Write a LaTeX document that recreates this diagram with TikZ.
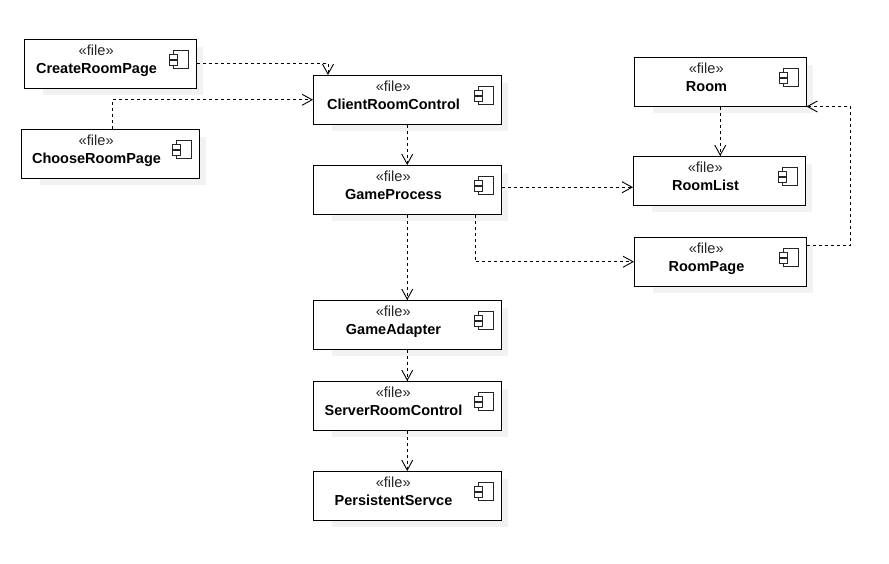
\documentclass[tikz,border=0pt]{standalone}
\usepackage{fontspec}
\setmainfont{Liberation Sans}
\usetikzlibrary{arrows.meta,calc}
\tikzset{
  x=1pt,y=-1pt,
  box/.style={draw=black,line width=1pt,fill=white,minimum height=49.5pt,inner sep=0pt,outer sep=0pt},
  shade/.style={fill=black!5,draw=none},
  stereo/.style={font=\fontsize{14.6pt}{15pt}\selectfont,text=black!85,inner sep=0pt},
  title/.style={font=\fontsize{14.5pt}{15pt}\selectfont\bfseries,text=black,inner sep=0pt},
  dep/.style={draw=black,line width=0.9pt,dash pattern=on 3pt off 3pt,-{Straight Barb[length=10pt,width=11pt,line width=0.9pt]}},
  iconline/.style={draw=black!85,line width=1pt,fill=white}
}
\newcommand{\comp}[7]{% name, x1, y1, x2, y2, title, text-centre
  \fill[shade] (#2+19,#3+8) rectangle (#4+7,#5+7);
  \node[box,minimum width={(#4)-(#2)+0.5},anchor=north west] (#1) at (#2,#3) {};
  \node[stereo,anchor=base] (#1s) at (#7-0.3,#3+16.2) {«file»};
  \node[title,anchor=base] (#1t) at (#7,#3+34.2) {#6};
  \draw[iconline] (#4-22.5,#3+11) rectangle (#4-8,#3+29);
  \draw[iconline] (#4-27,#3+15.5) rectangle (#4-18.5,#3+20.5);
  \draw[iconline] (#4-27,#3+21.5) rectangle (#4-18.5,#3+26.5);
}
\begin{document}
\begin{tikzpicture}
\useasboundingbox (0,0) rectangle (889,563);
\comp{create}{24}{39}{196}{88}{CreateRoomPage}{96.5}
\comp{choose}{21}{129}{199}{178}{ChooseRoomPage}{96.5}
\comp{client}{313}{75}{501}{124}{ClientRoomControl}{393.5}
\comp{process}{313}{165}{501}{214}{GameProcess}{393.5}
\comp{adapter}{313}{300}{501}{349}{GameAdapter}{393.5}
\comp{server}{313}{381}{501}{430}{ServerRoomControl}{393.5}
\comp{persist}{313}{471}{501}{520}{PersistentServce}{393.5}
\comp{room}{634}{57}{806}{106}{Room}{706.5}
\comp{list}{633}{156}{805}{205}{RoomList}{705.5}
\comp{page}{634}{237}{806}{286}{RoomPage}{706.5}
\coordinate (clienttop) at ($(client.north west)+(15,0)$);
\coordinate (chooseout) at ($(choose.north)+(2,0)$);
\coordinate (procout) at ($(process.east)+(0,-2.5)$);
\coordinate (liston) at (list.west |- procout);
\coordinate (procdown) at ($(process.south)+(68,0)$);
\coordinate (pageout) at ($(page.north east)+(0,8)$);
\coordinate (elbow) at (850.5,170);
\draw[dep] (create.east) -| (clienttop);
\draw[dep] (chooseout) |- (client.west);
\draw[dep] (client.south) -- (process.north);
\draw[dep] (process.south) -- (adapter.north);
\draw[dep] (adapter.south) -- (server.north);
\draw[dep] (server.south) -- (persist.north);
\draw[dep] (room.south) -- (room.south |- list.north);
\draw[dep] (procout) -- (liston);
\draw[dep] (procdown) |- (page.west);
\draw[dep] (pageout) -| (elbow) |- (room.south east);
\end{tikzpicture}
\end{document}
